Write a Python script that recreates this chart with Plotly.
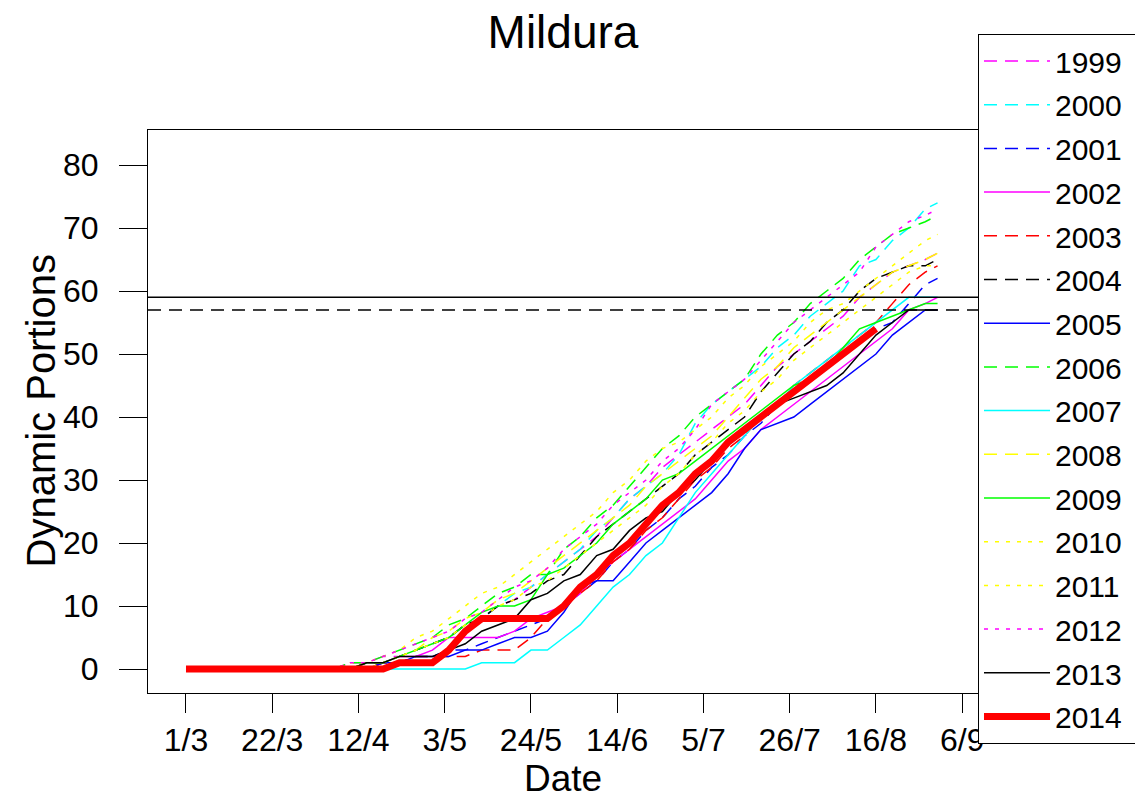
import plotly.graph_objects as go

days = [0, 4, 8, 12, 16, 20, 24, 28, 32, 36, 40, 44, 48, 52, 56, 60, 64, 68, 72, 76,
        80, 84, 88, 92, 96, 100, 104, 108, 112, 116, 120, 124, 128, 132, 136, 140,
        144, 148, 152, 156, 160, 164, 168, 172, 176, 180, 183]

tick_days = [0, 21, 42, 63, 84, 105, 126, 147, 168, 189]
tick_labels = ["1/3", "22/3", "12/4", "3/5", "24/5", "14/6", "5/7", "26/7", "16/8", "6/9"]

y_1999 = [0, 0, 0, 0, 0, 0, 0, 0, 0, 0,
          1, 1, 2, 2, 3, 4, 5, 7, 8, 10, 11, 13, 15, 17, 19, 21, 24, 27, 29, 32,
          34, 36, 38, 40, 42, 45, 48, 50, 52, 54, 56, 59, 61, 63, 64, 65, 66]
y_2000 = [0, 0, 0, 0, 0, 0, 0, 0, 0, 0,
          0, 1, 1, 2, 3, 4, 5, 7, 8, 10, 12, 13, 15, 17, 19, 22, 24, 27, 29, 31,
          34, 39, 42, 44, 46, 48, 51, 53, 56, 58, 60, 64, 65, 68, 70, 73, 74]
y_2001 = [0, 0, 0, 0, 0, 0, 0, 0, 0, 0,
          0, 0, 1, 1, 2, 2, 3, 3, 4, 5, 6, 7, 8, 10, 12, 14, 17, 19, 22, 24,
          27, 29, 32, 34, 37, 39, 42, 44, 46, 48, 50, 52, 54, 55, 58, 61, 62]
y_2002 = [0, 0, 0, 0, 0, 0, 0, 0, 0, 0,
          0, 1, 1, 2, 2, 3, 5, 5, 5, 5, 6, 8, 9, 10, 12, 15, 17, 19, 21, 23,
          25, 27, 30, 33, 35, 38, 40, 42, 44, 46, 48, 50, 52, 54, 57, 58, 59]
y_2003 = [0, 0, 0, 0, 0, 0, 0, 0, 0, 0,
          0, 0, 1, 1, 2, 2, 2, 2, 3, 3, 3, 5, 8, 10, 12, 14, 17, 19, 22, 24,
          27, 30, 32, 35, 37, 40, 42, 45, 47, 49, 51, 53, 55, 58, 61, 63, 64]
y_2004 = [0, 0, 0, 0, 0, 0, 0, 0, 0, 0,
          0, 1, 1, 2, 3, 4, 5, 7, 8, 10, 11, 12, 14, 15, 18, 21, 23, 25, 27, 29,
          31, 34, 36, 38, 40, 44, 47, 50, 52, 55, 57, 60, 62, 63, 64, 64, 65]
y_2005 = [0, 0, 0, 0, 0, 0, 0, 0, 0, 0,
          0, 0, 1, 1, 2, 2, 2, 3, 3, 4, 5, 5, 6, 9, 13, 14, 14, 17, 20, 22,
          24, 26, 28, 31, 35, 38, 39, 40, 42, 44, 46, 48, 50, 53, 55, 57, 57]
y_2006 = [0, 0, 0, 0, 0, 0, 0, 0, 0, 0,
          1, 1, 2, 3, 4, 5, 7, 8, 10, 12, 13, 15, 15, 19, 21, 24, 26, 29, 32, 35,
          37, 40, 42, 44, 46, 50, 53, 55, 58, 60, 62, 65, 67, 69, 70, 71, 72]
y_2007 = [0, 0, 0, 0, 0, 0, 0, 0, 0, 0,
          0, 0, 0, 0, 0, 0, 0, 0, 1, 1, 1, 3, 3, 5, 7, 10, 13, 15, 18, 20,
          24, 28, 31, 34, 37, 40, 42, 45, 47, 49, 51, 53, 55, 57, 59, 59, 59]
y_2008 = [0, 0, 0, 0, 0, 0, 0, 0, 0, 0,
          0, 1, 1, 2, 3, 5, 6, 8, 9, 11, 12, 14, 16, 18, 20, 22, 24, 26, 29, 31,
          33, 35, 37, 40, 43, 46, 48, 51, 53, 55, 57, 59, 61, 63, 64, 65, 66]
y_2009 = [0, 0, 0, 0, 0, 0, 0, 0, 0, 0,
          0, 1, 1, 2, 3, 4, 5, 7, 9, 10, 10, 11, 15, 16, 18, 20, 23, 25, 27, 30,
          31, 33, 35, 37, 39, 41, 43, 45, 46, 48, 51, 54, 55, 56, 57, 58, 58]
y_2010 = [0, 0, 0, 0, 0, 0, 0, 0, 0, 0,
          1, 1, 2, 3, 5, 6, 8, 10, 12, 13, 15, 17, 19, 21, 23, 25, 28, 30, 33, 35,
          36, 38, 40, 43, 45, 48, 50, 52, 55, 57, 58, 60, 62, 64, 66, 68, 69]
y_2011 = [0, 0, 0, 0, 0, 0, 0, 0, 0, 0,
          0, 0, 1, 2, 3, 4, 5, 7, 8, 10, 11, 13, 14, 16, 18, 20, 22, 24, 26, 29,
          31, 34, 36, 39, 41, 44, 46, 49, 51, 53, 55, 57, 59, 61, 63, 64, 64]
y_2012 = [0, 0, 0, 0, 0, 0, 0, 0, 0, 0,
          1, 1, 2, 3, 4, 5, 6, 8, 9, 11, 13, 14, 16, 19, 21, 23, 26, 28, 30, 33,
          35, 38, 42, 44, 46, 49, 52, 55, 57, 59, 61, 63, 67, 69, 71, 72, 73]
y_2013 = [0, 0, 0, 0, 0, 0, 0, 0, 0, 0,
          0, 1, 1, 2, 2, 2, 3, 4, 6, 7, 8, 11, 12, 14, 15, 18, 19, 22, 24, 25,
          28, 30, 33, 36, 38, 40, 42, 43, 44, 45, 47, 50, 53, 55, 57, 57, 57]
y_2014 = [0, 0, 0, 0, 0, 0, 0, 0, 0, 0,
          0, 0, 0, 1, 1, 1, 3, 6, 8, 8, 8, 8, 8, 10, 13, 15, 18, 20, 23, 26,
          28, 31, 33, 36, 38, 40, 42, 44, 46, 48, 50, 52, 54]

threshold_solid = 59
threshold_dashed = 57

years = ["1999", "2000", "2001", "2002", "2003", "2004", "2005", "2006",
         "2007", "2008", "2009", "2010", "2011", "2012", "2013", "2014"]
values = [y_1999, y_2000, y_2001, y_2002, y_2003, y_2004, y_2005, y_2006,
          y_2007, y_2008, y_2009, y_2010, y_2011, y_2012, y_2013, y_2014]
colors = ["#FF00FF", "#00FFFF", "#0000FF", "#FF00FF", "#FF0000", "#000000",
          "#0000FF", "#00FF00", "#00FFFF", "#FFFF00", "#00FF00", "#FFFF00",
          "#FFFF00", "#FF00FF", "#000000", "#FF0000"]
DASH = "13px,8px"
DOT = "4px,7px"
dashes = [DASH, DASH, DASH, "solid", DASH, DASH, "solid", DASH,
          "solid", DASH, "solid", DOT, DOT, DOT, "solid", "solid"]
widths = [1.5] * 15 + [7]

fig = go.Figure()
for yr, v, c, d, w in zip(years, values, colors, dashes, widths):
    fig.add_trace(go.Scatter(
        x=days[:len(v)], y=v, mode="lines", name=yr + "\u00a0",
        legendgroup=yr,
        line=dict(color=c, dash=d, width=w, shape="linear"),
    ))

fig.add_shape(type="line", xref="paper", x0=0, x1=1, yref="y",
              y0=threshold_solid, y1=threshold_solid,
              line=dict(color="black", width=1.5))
fig.add_shape(type="line", xref="paper", x0=0, x1=1, yref="y",
              y0=threshold_dashed, y1=threshold_dashed,
              line=dict(color="black", width=1.5, dash=DASH))

FONT = "Liberation Sans, Arial, sans-serif"
W, H = 1135, 789          # page body has an 8px margin
PLOT_H = 563
fig.update_layout(
    width=W, height=H,
    paper_bgcolor="white", plot_bgcolor="white",
    margin=dict(l=140, r=165, t=122, b=104, autoexpand=False),
    font=dict(family=FONT, color="black", size=30),
    title=dict(text="Mildura", x=0.5, xref="paper", xanchor="center",
               y=1 - 24 / H, yanchor="middle",
               font=dict(size=46, family=FONT, color="black")),
    showlegend=True,
    legend=dict(x=1.0, xanchor="left", y=1 + 96 / PLOT_H, yanchor="top",
                bgcolor="white", bordercolor="black", borderwidth=1,
                font=dict(size=30, family=FONT), tracegroupgap=1.7,
                itemwidth=66, traceorder="grouped", maxheight=770),
    annotations=[
        dict(text="Dynamic Portions", xref="paper", yref="paper",
             x=-108 / 830, y=0.5, xanchor="center", yanchor="middle",
             textangle=-90, showarrow=False, font=dict(size=40, family=FONT)),
        dict(text="Date", xref="paper", yref="paper",
             x=0.5, y=-85 / PLOT_H, xanchor="center", yanchor="middle",
             showarrow=False, font=dict(size=37, family=FONT)),
    ],
)
fig.update_xaxes(
    range=[-9.25, 192.85], tickmode="array", tickvals=tick_days, ticktext=tick_labels,
    showgrid=False, zeroline=False, showline=True, linecolor="black", linewidth=1,
    mirror=True, ticks="outside", ticklen=19, tickcolor="black", tickwidth=1,
    ticklabelstandoff=0, tickfont=dict(size=32, family=FONT),
)
fig.update_yaxes(
    range=[-3.81, 85.56], tickmode="array", tickvals=[0, 10, 20, 30, 40, 50, 60, 70, 80],
    showgrid=False, zeroline=False, showline=True, linecolor="black", linewidth=1,
    mirror=True, ticks="outside", ticklen=28, tickcolor="black", tickwidth=1,
    ticklabelstandoff=14, tickfont=dict(size=32, family=FONT),
)

fig.write_html("out.html")
